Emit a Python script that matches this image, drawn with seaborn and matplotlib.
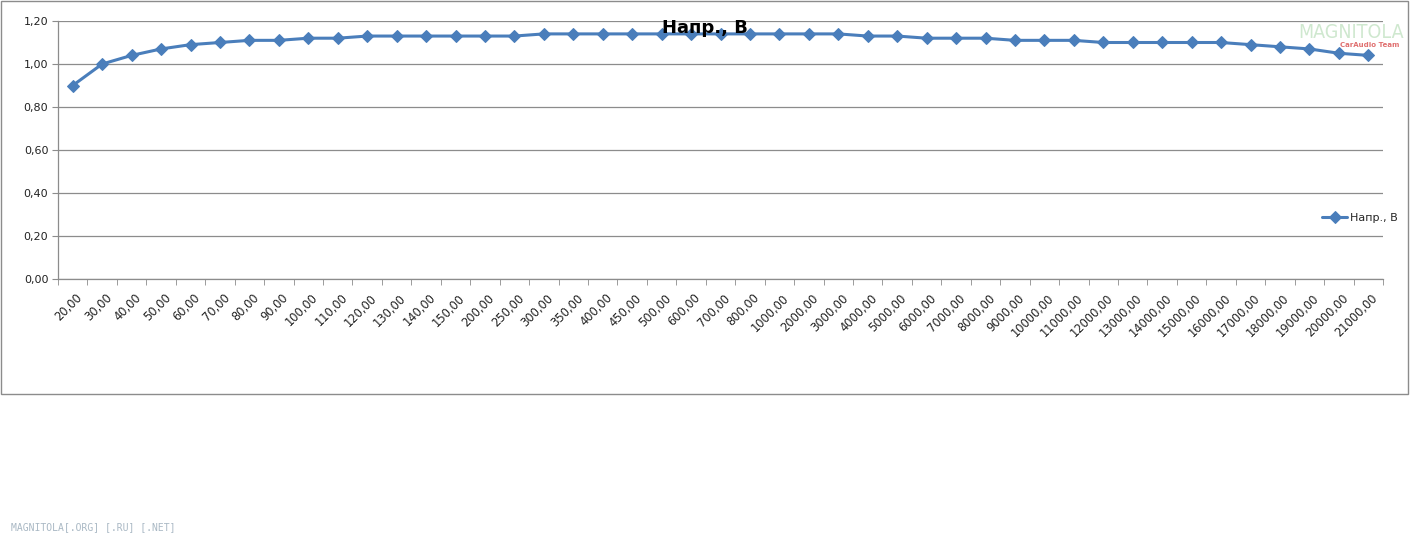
import matplotlib
matplotlib.use("Agg")
import matplotlib.pyplot as plt
import matplotlib.patches as patches
import matplotlib.transforms as mtransforms
from matplotlib.ticker import FixedLocator, FuncFormatter
import seaborn as sns
import pandas as pd

# frequency points (category labels) and measured voltage
freqs = [20, 30, 40, 50, 60, 70, 80, 90, 100, 110, 120, 130, 140, 150, 200, 250,
         300, 350, 400, 450, 500, 600, 700, 800, 1000, 2000, 3000, 4000, 5000,
         6000, 7000, 8000, 9000, 10000, 11000, 12000, 13000, 14000, 15000,
         16000, 17000, 18000, 19000, 20000, 21000]
volts = [0.90, 1.00, 1.04, 1.07, 1.09, 1.10, 1.11, 1.11, 1.12, 1.12, 1.13, 1.13,
         1.13, 1.13, 1.13, 1.13, 1.14, 1.14, 1.14, 1.14, 1.14, 1.14, 1.14, 1.14,
         1.14, 1.14, 1.14, 1.13, 1.13, 1.12, 1.12, 1.12, 1.11, 1.11, 1.11, 1.10,
         1.10, 1.10, 1.10, 1.10, 1.09, 1.08, 1.07, 1.05, 1.04]
series_name = "Напр., В"

freq_labels = [f"{f},00" for f in freqs]
df = pd.DataFrame({"freq": freq_labels, "volt": volts})

sns.set_style("white")
plt.rcParams["font.family"] = ["DejaVu Sans"]

W, H = 1411, 537
fig = plt.figure(figsize=(W / 100, H / 100), dpi=100)
ax = fig.add_axes([58 / W, 1 - 279 / H, (1383 - 58) / W, (279 - 21) / H])

line_color = "#4a7ebb"
sns.lineplot(data=df, x="freq", y="volt", sort=False, ax=ax, color=line_color,
             linewidth=2.2, marker="D", markersize=6.5, markeredgecolor=line_color,
             label=series_name)

ax.set_xlim(-0.5, len(freqs) - 0.5)
ax.set_ylim(0, 1.2)
ax.set_xlabel("")
ax.set_ylabel("")

# y axis: Excel style labels and gridlines
yt = [0, 0.2, 0.4, 0.6, 0.8, 1.0, 1.2]
ax.set_yticks(yt)
ax.yaxis.set_major_formatter(FuncFormatter(lambda v, p: f"{v:.2f}".replace(".", ",")))
ax.grid(axis="y", color="#8c8c8c", linewidth=0.9)
ax.set_axisbelow(True)
ax.tick_params(axis="y", direction="out", length=4, color="#8c8c8c",
               labelsize=8, labelcolor="#222222", pad=3, left=True)

# x axis: labels at categories, tick marks between categories
ax.set_xticks(range(len(freqs)))
ax.set_xticklabels(freq_labels, rotation=45, ha="right", rotation_mode="anchor",
                   fontsize=8.3, color="#222222")
ax.tick_params(axis="x", which="major", length=0, pad=9)
shift = mtransforms.ScaledTranslation(3 / 100, 0, fig.dpi_scale_trans)
for lbl in ax.get_xticklabels():
    lbl.set_transform(lbl.get_transform() + shift)
ax.xaxis.set_minor_locator(FixedLocator([i - 0.5 for i in range(len(freqs) + 1)]))
ax.tick_params(axis="x", which="minor", direction="out", length=4, color="#8c8c8c",
               bottom=True)

for s in ["top", "right"]:
    ax.spines[s].set_visible(False)
for s in ["left", "bottom"]:
    ax.spines[s].set_color("#8c8c8c")
    ax.spines[s].set_linewidth(0.9)

# title overlapping plot area
fig.text(705 / W, 1 - 28 / H, series_name, ha="center", va="center",
         fontsize=13, fontweight="bold", color="black")

# legend on the right
ax.legend(loc="center left", bbox_to_anchor=(1318 / W, 1 - 218 / H),
          bbox_transform=fig.transFigure, frameon=False, fontsize=8,
          handlelength=2.2, handletextpad=0.3, borderaxespad=0)

# chart border
fig.patches.append(patches.Rectangle((1 / W, 1 - 394 / H), 1407 / W, 393 / H,
                                     transform=fig.transFigure, fill=False,
                                     edgecolor="#8c8c8c", linewidth=1.0))

# watermarks
fig.text(1351 / W, 1 - 32 / H, "MAGNITOLA", ha="center", va="center",
         fontsize=14, color="#cfe8cf", stretch="condensed")
fig.text(1370 / W, 1 - 45 / H, "CarAudio Team", ha="center", va="center",
         fontsize=5, color="#e07070", fontweight="bold")
fig.text(11 / W, 1 - 527 / H, "MAGNITOLA[.ORG] [.RU] [.NET]", ha="left", va="center",
         fontsize=7, color="#a9b8c4", family="DejaVu Sans Mono")

fig.savefig("out.png", dpi=100)
